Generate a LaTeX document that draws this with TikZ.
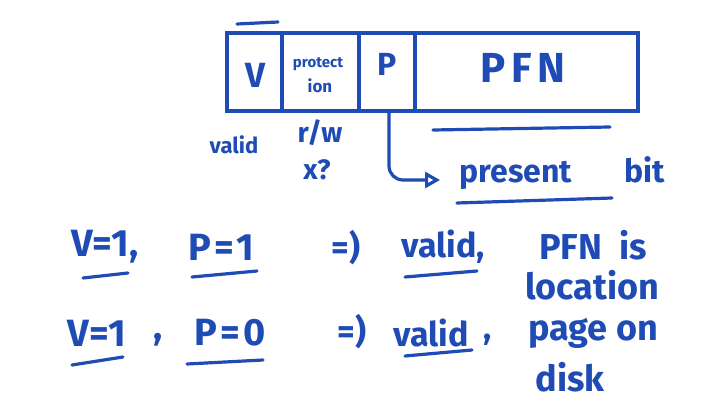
\documentclass[tikz,border=0pt]{standalone}
\usepackage{fontspec}
\setmainfont{Fira Sans}
\usetikzlibrary{arrows.meta}
\definecolor{marker}{RGB}{31,75,181}

\begin{document}
\begin{tikzpicture}[x=1pt, y=-1pt,
		ink/.style={draw=marker, line width=3.2pt, line cap=round, line join=round},
		cell/.style={draw=marker, line width=3.2pt, minimum height=78pt, inner sep=0pt},
		hand/.style={text=marker, inner sep=0pt}]
		\useasboundingbox (0, 0) rectangle (714, 419);

		\node[cell, minimum width=55pt] (V) at (254.5, 72) {};
		\node[cell, minimum width=77pt] (prot) at (320.5, 72) {};
		\node[cell, minimum width=56pt] (P) at (387, 72) {};
		\node[cell, minimum width=223pt] (PFN) at (526.5, 72) {};

		% text in the cells
		\node[hand, font=\fontsize{35}{35}\selectfont\bfseries] (Vtxt) at (255, 75) {V};
		\node[hand, font=\fontsize{15}{15}\selectfont\bfseries] (prot1) at (318, 64) {protect};
		\node[hand, font=\fontsize{17}{17}\selectfont\bfseries] (prot2) at (320, 86) {ion};
		\node[hand, font=\fontsize{32}{32}\selectfont\bfseries] (Ptxt) at (387, 64) {P};
		\node[hand, font=\fontsize{42}{42}\selectfont\bfseries\addfontfeatures{LetterSpace=14}] (PFNtxt) at (523, 68) {PFN};

		% below the entry
		\node[hand, font=\fontsize{22}{22}\selectfont\bfseries] (valid) at (234, 145) {valid};
		\node[hand, font=\fontsize{28}{28}\selectfont\bfseries] (rw) at (320, 133) {r/w};
		\node[hand, font=\fontsize{28}{28}\selectfont\bfseries] (xq) at (317, 170) {x?};
		\node[hand, font=\fontsize{32}{32}\selectfont\bfseries, anchor=base] (present) at (516, 183) {present};
		\node[hand, font=\fontsize{32}{32}\selectfont\bfseries, anchor=base] (bit) at (645, 183) {bit};
		\coordinate (tip) at (440, 180);

		\draw[ink] (237, 24) -- (278, 22);
		\draw[ink] (433, 130) -- (610, 127);
		\draw[ink] (457, 203) -- (612, 198);
		\draw[ink, rounded corners=14pt, -{Triangle[open, length=15pt, width=16pt]}] ([xshift=2pt]P.south) |- (tip);

		% the two cases
		\node[hand, font=\fontsize{38}{38}\selectfont\bfseries] (v1a) at (105, 247) {V=1,};
		\node[hand, font=\fontsize{38}{38}\selectfont\bfseries\addfontfeatures{LetterSpace=8}] (p1a) at (221, 247) {P=1};
		\node[hand, font=\fontsize{34}{34}\selectfont\bfseries] (imp1) at (346, 248) {=)};
		\node[hand, font=\fontsize{34}{34}\selectfont\bfseries] (ok1) at (443, 247) {valid,};
		\node[hand, font=\fontsize{36}{36}\selectfont\bfseries] (pfnis) at (593, 245) {PFN\ \ is};
		\node[hand, font=\fontsize{36}{36}\selectfont\bfseries] (loc) at (592, 285) {location};

		\node[hand, font=\fontsize{38}{38}\selectfont\bfseries] (v1b) at (97, 333) {V=1};
		\node[hand, font=\fontsize{38}{38}\selectfont\bfseries] (comma) at (158, 340) {,};
		\node[hand, font=\fontsize{38}{38}\selectfont\bfseries\addfontfeatures{LetterSpace=8}] (p0b) at (230, 333) {P=0};
		\node[hand, font=\fontsize{34}{34}\selectfont\bfseries] (imp2) at (352, 332) {=)};
		\node[hand, font=\fontsize{34}{34}\selectfont\bfseries] (ok2) at (431, 333) {valid};
		\node[hand, font=\fontsize{34}{34}\selectfont\bfseries] (comma2) at (488, 340) {,};
		\node[hand, font=\fontsize{36}{36}\selectfont\bfseries] (page) at (593, 333) {page on};
		\node[hand, font=\fontsize{36}{36}\selectfont\bfseries] (disk) at (570, 377) {disk};

		% underlines
		\draw[ink] (83, 278) -- (128, 273);
		\draw[ink] (192, 277) -- (257, 271);
		\draw[ink] (405, 277) -- (477, 271);
		\draw[ink] (72, 365) -- (123, 357);
		\draw[ink] (187, 364) -- (263, 360);
		\draw[ink] (405, 356) -- (472, 350);

	\end{tikzpicture}
\end{document}
